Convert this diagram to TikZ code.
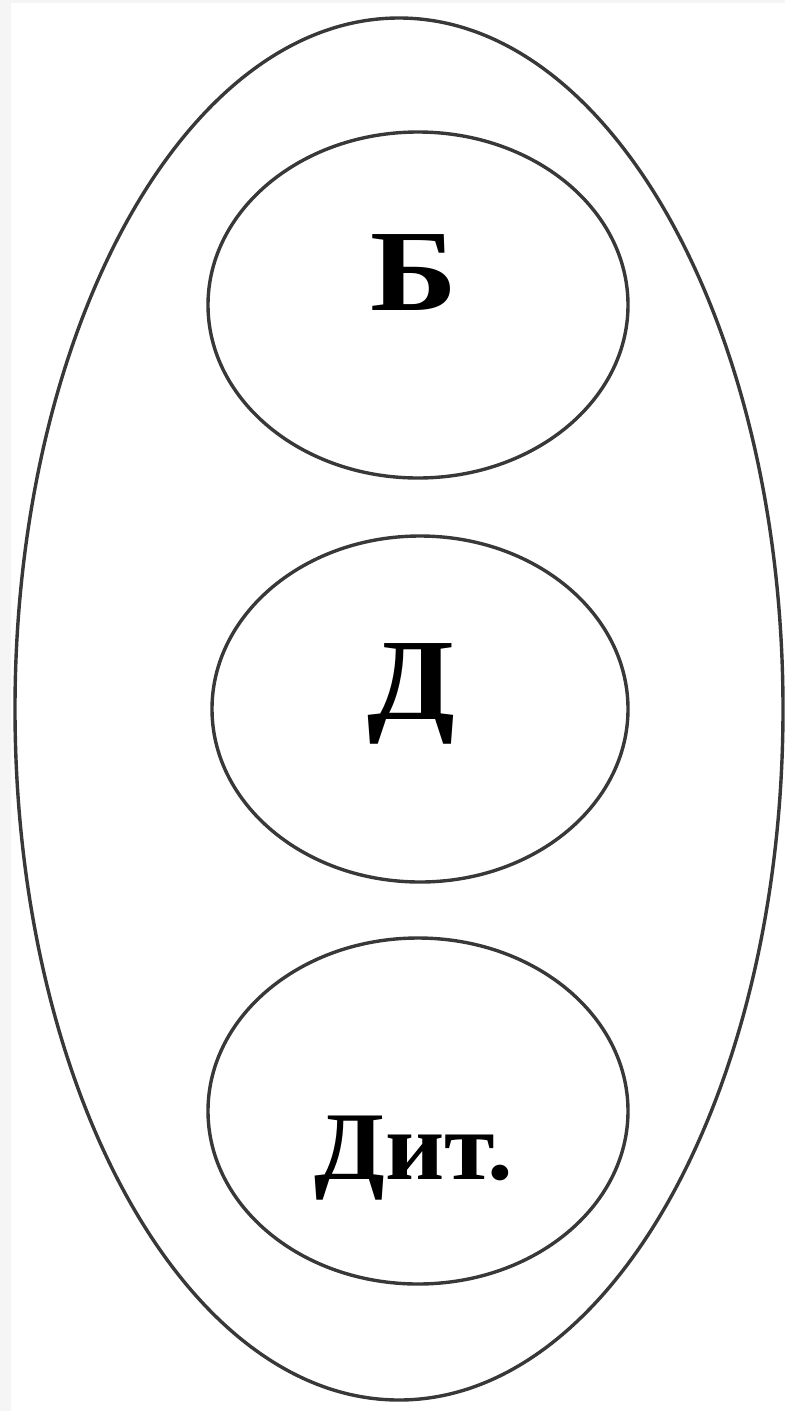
\documentclass[tikz,border=0pt]{standalone}
\usepackage{fontspec}
\setmainfont{Liberation Serif}
\usetikzlibrary{shapes.geometric}
\begin{document}
\begin{tikzpicture}[x=1pt,y=-1pt,
  oval/.style={draw=black!78, line width=3.4pt, ellipse, inner sep=0pt},
  lbl/.style={inner sep=0pt, anchor=base, font=\bfseries\fontsize{116}{120}\selectfont},
  lblsmall/.style={lbl, font=\bfseries\fontsize{97}{100}\selectfont}]
\useasboundingbox (0,0) rectangle (785,1411);
\fill[black!4] (0,0) rectangle (785,1411);
\fill[white] (11,3) rectangle (785,1411);
\node[oval, minimum width=768pt, minimum height=1382pt] (outer) at (399,709) {};
\node[oval, minimum width=420pt, minimum height=346pt] (e1) at (418,305) {};
\node[oval, minimum width=416pt, minimum height=346pt] (e2) at (420,709) {};
\node[oval, minimum width=420pt, minimum height=346pt] (e3) at (418,1111) {};
\node[lbl] (t1) at (414,310) {\scalebox{1.13}[1]{Б}};
\node[lbl] (t2) at (411,719) {\scalebox{1.1}[1]{Д}};
\node[lblsmall] (t3) at (414,1179) {\scalebox{1.06}[1]{Дит.}};
\end{tikzpicture}
\end{document}
